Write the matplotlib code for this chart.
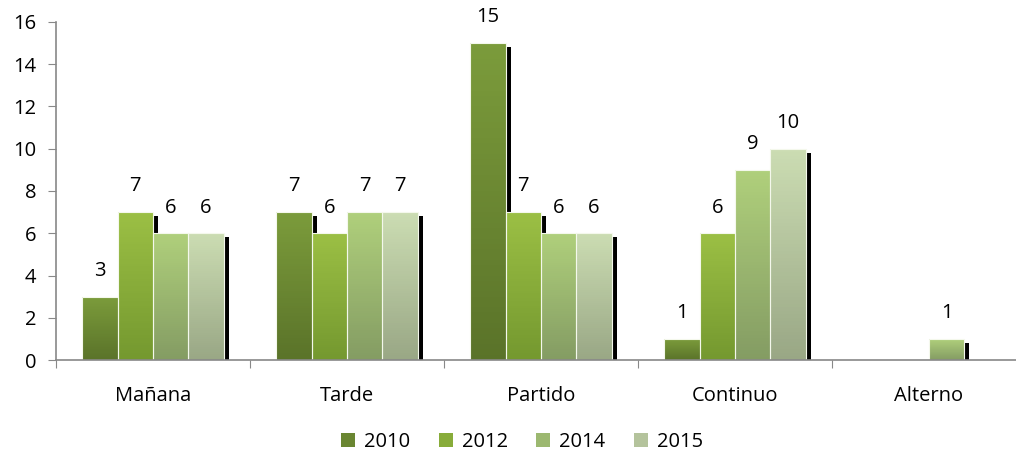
import numpy as np
import matplotlib.pyplot as plt
from matplotlib.patches import Rectangle, Patch
from matplotlib.colors import LinearSegmentedColormap

plt.rcParams['font.family'] = ['Open Sans', 'DejaVu Sans']

categories = ["Mañana", "Tarde", "Partido", "Continuo", "Alterno"]
years = ["2010", "2012", "2014", "2015"]
v2010 = [3, 7, 15, 1, 0]
v2012 = [7, 6, 7, 6, 0]
v2014 = [6, 7, 6, 9, 1]
v2015 = [6, 7, 6, 10, 0]
series = [v2010, v2012, v2014, v2015]

# (top colour, bottom colour) for each year's bar gradient
gradients = [("#7b9b3b", "#5a7329"),
             ("#9bbf44", "#74982f"),
             ("#afcf7b", "#849c63"),
             ("#cbdcb2", "#99a785")]
legend_colors = ["#6a8632", "#88ac3a", "#9cb870", "#b4c39c"]

fig = plt.figure(figsize=(10.16, 4.54), dpi=100)
ax = fig.add_axes([56 / 1016, (454 - 360) / 454, 970 / 1016, 338 / 454])

bar_w = 0.182
ymax = 16
n_slices = 60

# shadow offset in data units (about 5px right, 4px down)
sx = 5 / 194
sy = 4 / 21.1

for s, (vals, (top, bot)) in enumerate(zip(series, gradients)):
    cmap = LinearSegmentedColormap.from_list(f"g{s}", [bot, top])
    bars = ax.bar(np.arange(len(vals)) + 0.5 + (s - 1.5) * bar_w, vals,
                  width=bar_w, facecolor="none", edgecolor="#f4f8ec",
                  linewidth=0.8, zorder=3)
    for rect, v in zip(bars, vals):
        if v <= 0:
            rect.set_visible(False)
            continue
        x0 = rect.get_x()
        # drop shadow behind the bar
        ax.add_patch(Rectangle((x0 + sx, 0), bar_w, max(v - sy, 0),
                               facecolor="black", edgecolor="none", zorder=1))
        # solid base so no seams let the shadow through
        ax.add_patch(Rectangle((x0, 0), bar_w, v, facecolor=cmap(0.5),
                               edgecolor="none", zorder=1.5))
        # vertical gradient, darker at the bottom; slices overlap a little
        edges = np.linspace(0, v, n_slices + 1)
        step = edges[1] - edges[0]
        for k in range(n_slices):
            h = min(step * 2, v - edges[k])
            ax.add_patch(Rectangle((x0, edges[k]), bar_w, h,
                                   facecolor=cmap(k / (n_slices - 1)),
                                   edgecolor="none", linewidth=0, zorder=2))
        ax.annotate(str(v), (x0 + bar_w / 2, v), xytext=(0, 18.5),
                    textcoords="offset points", ha="center", va="center",
                    fontsize=14.5, color="black")

ax.set_xlim(0, len(categories))
ax.set_ylim(0, ymax)

for sp in ["top", "right"]:
    ax.spines[sp].set_visible(False)
for sp in ["left", "bottom"]:
    ax.spines[sp].set_color("#888888")
    ax.spines[sp].set_linewidth(1.2)
    ax.spines[sp].set_zorder(4)

ax.set_yticks(range(0, ymax + 1, 2))
ax.tick_params(axis="y", direction="out", length=6, color="#888888",
               labelsize=14.5, pad=8)
ax.set_xticks(range(0, len(categories) + 1))
ax.set_xticklabels([])
ax.tick_params(axis="x", direction="out", length=6, color="#888888")
for i, c in enumerate(categories):
    ax.text(i + 0.5, -1.7, c, ha="center", va="center", fontsize=14.5)

handles = [Patch(facecolor=c, edgecolor="none") for c in legend_colors]
fig.legend(handles, years, loc="center", bbox_to_anchor=(522 / 1016, 1 - 442 / 454),
           ncol=4, frameon=False, fontsize=14.5, handlelength=0.7,
           handleheight=0.7, handletextpad=0.45, columnspacing=1.4)

fig.savefig("out.png", dpi=100)
